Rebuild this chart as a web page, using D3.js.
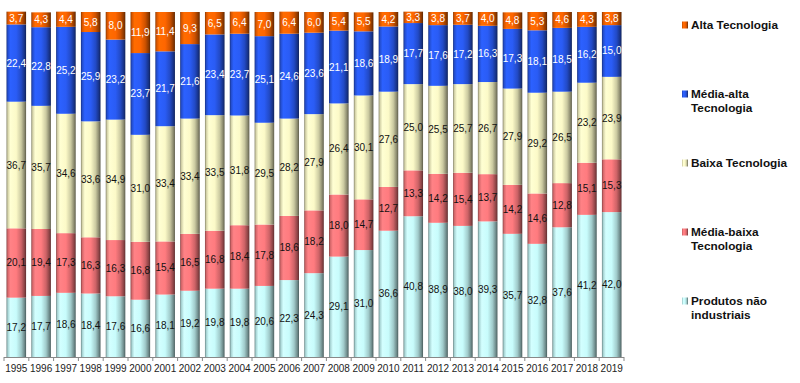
<!DOCTYPE html>
<html><head><meta charset="utf-8">
<script src="https://cdn.jsdelivr.net/npm/d3@7"></script>
<style>body{margin:0;background:#fff;}svg{display:block;font-family:Arial,"Liberation Sans",sans-serif;}</style>
</head><body><svg id="c" width="800" height="383"></svg>
<script>
const years = ["1995","1996","1997","1998","1999","2000","2001","2002","2003","2004","2005","2006","2007","2008","2009","2010","2011","2012","2013","2014","2015","2016","2017","2018","2019"];
const seriesNames = ["Produtos não industriais","Média-baixa Tecnologia","Baixa Tecnologia","Média-alta Tecnologia","Alta Tecnologia"];
const produtos = [17.2,17.7,18.6,18.4,17.6,16.6,18.1,19.2,19.8,19.8,20.6,22.3,24.3,29.1,31.0,36.6,40.8,38.9,38.0,39.3,35.7,32.8,37.6,41.2,42.0];
const mediaBaixa = [20.1,19.4,17.3,16.3,16.3,16.8,15.4,16.5,16.8,18.4,17.8,18.6,18.2,18.0,14.7,12.7,13.3,14.2,15.4,13.7,14.2,14.6,12.8,15.1,15.3];
const baixa = [36.7,35.7,34.6,33.6,34.9,31.0,33.4,33.4,33.5,31.8,29.5,28.2,27.9,26.4,30.1,27.6,25.0,25.5,25.7,26.7,27.9,29.2,26.5,23.2,23.9];
const mediaAlta = [22.4,22.8,25.2,25.9,23.2,23.7,21.7,21.6,23.4,23.7,25.1,24.6,23.6,21.1,18.6,18.9,17.7,17.6,17.2,16.3,17.3,18.1,18.5,16.2,15.0];
const alta = [3.7,4.3,4.4,5.8,8.0,11.9,11.4,9.3,6.5,6.4,7.0,6.4,6.0,5.4,5.5,4.2,3.3,3.8,3.7,4.0,4.8,5.3,4.6,4.3,3.8];
const legendLabels = [["Alta Tecnologia"],["Média-alta","Tecnologia"],["Baixa Tecnologia"],["Média-baixa","Tecnologia"],["Produtos não","industriais"]];

const values = [produtos, mediaBaixa, baixa, mediaAlta, alta];
const colors = ["#c8fcfc","#ff7b7f","#fcfac8","#2a5cf5","#ff6600"];
const textColors = ["#111","#111","#111","#fff","#fff"];

const svg = d3.select("#c");
const defs = svg.append("defs");
colors.forEach((c,i)=>{
  const g = defs.append("linearGradient").attr("id","g"+i).attr("x1","0").attr("x2","1").attr("y1","0").attr("y2","0");
  const base = d3.color(c);
  const stops = [[0,base.darker(1.8)],[0.07,base.darker(0.5)],[0.2,base.brighter(0.15)],[0.5,base],[0.75,base.darker(0.6)],[0.92,base.darker(1.7)],[1,base.darker(2.8)]];
  stops.forEach(s=>g.append("stop").attr("offset",s[0]).attr("stop-color",s[1].formatHex()));
});

const x = d3.scaleBand().domain(years).range([4,624]).paddingInner(0.21).paddingOuter(0.1);
const y = d3.scaleLinear().domain([0,100]).range([357,12]);

const table = years.map((yr,i)=>{ const o={year:yr}; values.forEach((v,k)=>o["s"+k]=v[i]); return o;});
const stack = d3.stack().keys(values.map((v,k)=>"s"+k))(table);

const fmt = v => v.toFixed(1).replace(".",",");

stack.forEach((layer,k)=>{
  const g = svg.append("g");
  g.selectAll("rect").data(layer).join("rect")
    .attr("x",d=>x(d.data.year)).attr("width",x.bandwidth())
    .attr("y",d=>y(d[1])).attr("height",d=>y(d[0])-y(d[1]))
    .attr("fill","url(#g"+k+")");
  g.selectAll("text").data(layer).join("text")
    .attr("x",d=>x(d.data.year)+x.bandwidth()/2)
    .attr("y",d=>(y(d[0])+y(d[1]))/2)
    .attr("dy","0.35em").attr("text-anchor","middle")
    .attr("font-size","10px").attr("fill",textColors[k])
    .text(d=>fmt(d[1]-d[0]));
});

// axis
const ax = svg.append("g");
ax.append("line").attr("x1",4).attr("x2",624).attr("y1",357.5).attr("y2",357.5).attr("stroke","#888");
const edges = d3.range(years.length+1).map(i=>4 + i*(620/years.length));
ax.selectAll("line.t").data(edges).join("line").attr("class","t")
  .attr("x1",d=>d).attr("x2",d=>d).attr("y1",357).attr("y2",361).attr("stroke","#888");
ax.selectAll("text").data(years).join("text")
  .attr("x",d=>x(d)+x.bandwidth()/2).attr("y",368).attr("dy","0.35em")
  .attr("text-anchor","middle").attr("font-size","10px").attr("fill","#222").text(d=>d);

// legend
const legY = [25,94,163,232,301];
const legOrder = [4,3,2,1,0];
legOrder.forEach((k,i)=>{
  const g = svg.append("g");
  g.append("rect").attr("x",682).attr("y",legY[i]-3.5).attr("width",6).attr("height",7).attr("fill","url(#g"+k+")");
  legendLabels[i].forEach((t,j)=>{
    g.append("text").attr("x",691).attr("y",legY[i]+j*14).attr("dy","0.35em")
      .attr("font-size","11.8px").attr("font-weight","bold").attr("fill","#111").text(t);
  });
});
</script></body></html>
